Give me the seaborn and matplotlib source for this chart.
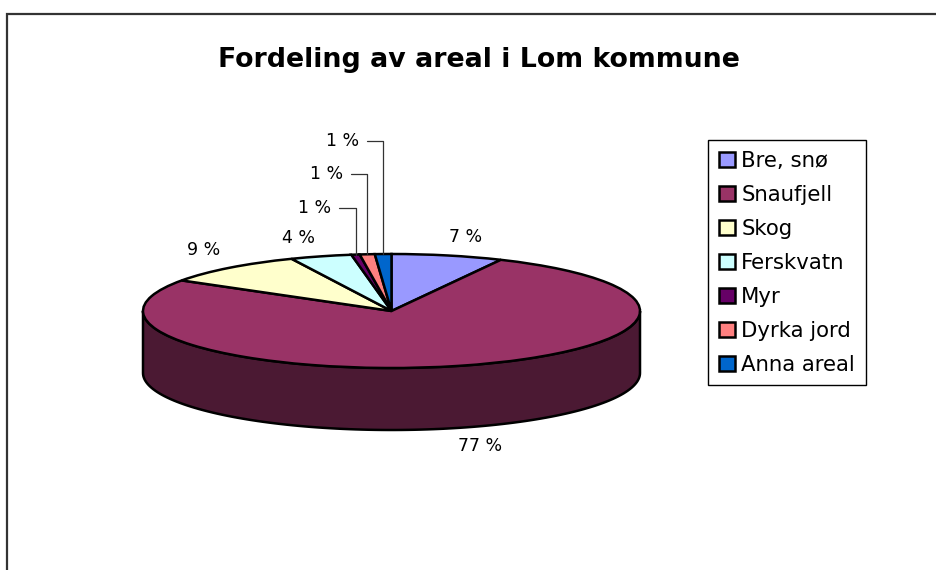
import numpy as np
import matplotlib
matplotlib.use("Agg")
import matplotlib.pyplot as plt
import seaborn as sns
from matplotlib.patches import Polygon, Rectangle

# area shares in Lom kommune (percent)
categories = ["Bre, snø", "Snaufjell", "Skog", "Ferskvatn", "Myr", "Dyrka jord", "Anna areal"]
shares = [7.25, 76.7, 9.4, 4.0, 0.54, 0.97, 1.07]
top_colors = ["#9999FF", "#993366", "#FFFFCC", "#CCFFFF", "#660066", "#FF8080", "#0066CC"]
side_colors = ["#4D4D80", "#4B1933", "#808066", "#668080", "#330033", "#804040", "#003366"]
title = "Fordeling av areal i Lom kommune"

sns.set_theme(style="white")
plt.rcParams["font.family"] = ["DejaVu Sans"]
plt.rcParams["text.color"] = "black"

W, H = 936, 570
fig = plt.figure(figsize=(W / 100, H / 100), dpi=100)
ax = fig.add_axes([0, 0, 1, 1])

# pie size and centre in pixels (y measured from the top)
rx, ry, depth = 248.5, 57.0, 62.0
cx, cy = 391.5, 311.0
d = depth / ry

# top surface
wedges, _ = ax.pie(shares, colors=top_colors, startangle=90, counterclock=False,
                   wedgeprops=dict(edgecolor="black", linewidth=1.8, zorder=3))

# side walls for the front half of the pie
fracs = np.array(shares) / np.sum(shares)
ends = 90 - 360 * np.cumsum(fracs)
starts = ends + 360 * fracs
for s, e, c in zip(starts, ends, side_colors):
    for k in (-360, 0, 360):
        a, b = max(e, -180 + k), min(s, 0 + k)
        if b > a:
            t = np.deg2rad(np.linspace(a, b, 120))
            top = np.column_stack([np.cos(t), np.sin(t)])
            bot = np.column_stack([np.cos(t), np.sin(t) - d])[::-1]
            ax.add_patch(Polygon(np.vstack([top, bot]), closed=True, facecolor=c,
                                 edgecolor="black", linewidth=1.8, zorder=2))

# data labels
mids = np.deg2rad((starts + ends) / 2)
n_small = 0
for v, m in zip(shares, mids):
    txt = f"{v:.0f} %"
    cs, sn = np.cos(m), np.sin(m)
    if v < 2:
        # tiny slices get stacked labels with leader lines
        n_small += 1
        ax.annotate(txt, xy=(cs, sn), xytext=(-24, 14 + 33 * n_small),
                    textcoords="offset pixels", ha="right", va="center", fontsize=12.5,
                    arrowprops=dict(arrowstyle="-", color="#333333", lw=0.9,
                                    connectionstyle="angle,angleA=0,angleB=90,rad=0",
                                    shrinkA=3, shrinkB=0, relpos=(1, 0.5)))
    else:
        rim_y = sn - d if sn < 0 else sn
        ox = 26 * np.sign(cs) * min(1, abs(cs) * 3)
        oy = 18 * np.sign(sn)
        ax.annotate(txt, xy=(cs, rim_y), xytext=(ox, oy), textcoords="offset pixels",
                    ha="center", va="center", fontsize=12.5)

ax.set_xlim(-cx / rx, (W - cx) / rx)
ax.set_ylim(-(H - cy) / ry, cy / ry)
ax.set_aspect("auto")
ax.axis("off")

fig.text(479 / W, 1 - 60 / H, title, ha="center", va="center",
         fontsize=19.3, fontweight="bold")

leg = fig.legend(wedges, categories, loc="upper left", bbox_to_anchor=(708 / W, 1 - 140 / H),
                 frameon=True, fancybox=False, framealpha=1, edgecolor="black",
                 fontsize=15.3, labelspacing=0.66, handlelength=0.75, handleheight=0.72,
                 handletextpad=0.32, borderpad=0.5, borderaxespad=0)
leg.get_frame().set_linewidth(1.0)

# chart area frame (cropped at right and bottom)
fig.add_artist(Rectangle((7.5 / W, -0.05), 1.2, (H - 13.5) / H + 0.05, transform=fig.transFigure,
                         fill=False, edgecolor="#333333", linewidth=1.6))

fig.savefig("out.png", dpi=100)
